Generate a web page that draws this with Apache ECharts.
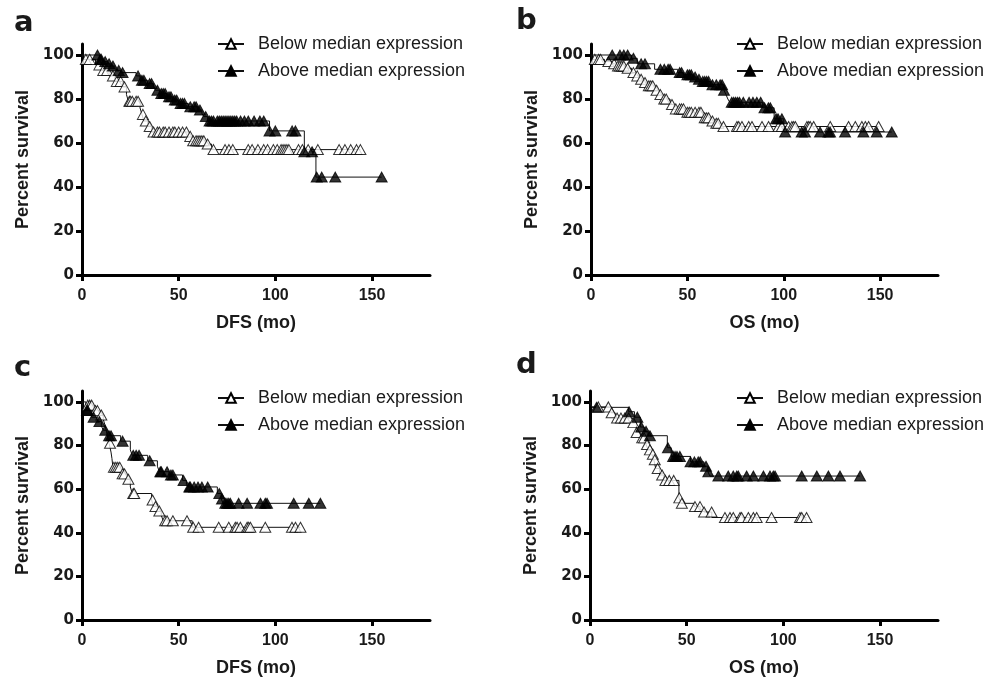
<!DOCTYPE html>
<html>
<head>
<meta charset="utf-8">
<script src="https://cdn.jsdelivr.net/npm/echarts@6/dist/echarts.min.js"></script>
<style>
html,body{margin:0;padding:0;background:#fff;}
#chart{width:1001px;height:678px;}
</style>
</head>
<body>
<div id="chart"></div>
<script>
// ---------- data ----------
var panelLetters = ['a', 'b', 'c', 'd'];
var xAxisTitles = ['DFS (mo)', 'OS (mo)', 'DFS (mo)', 'OS (mo)'];
var yAxisTitle = 'Percent survival';
var groupNames = ['Below median expression', 'Above median expression'];
var xTicks = [0, 50, 100, 150];
var yTicks = [0, 20, 40, 60, 80, 100];

// Kaplan-Meier step events: [time (mo), percent survival after the drop]
var aBelowEvents = [[1,98],[7,95.5],[10,93],[14,90.5],[17,88],[21,85.5],[23,82],[24,79],[30,76],[31,73],[32,70],[34,67.5],[36,65],[55,63],[57,61],[64,59.5],[67,57]];
var aBelowCensored = [2,4,9,11,13,16,18,20,22,24.5,25,26,28,29,31.5,33,35,37,39,40,42,43,45,47,48,50,52,54,56,57.5,59,60,61,62,63,65,68,74,76,78,86,88,91,94,96,99,101,103,104,105,106,107,112,114,117,122,133,136,139,142,144];
var aAboveEvents = [[9,98],[11,97],[13,96],[15,95],[17,94],[18,93],[20,92],[28,90.5],[30,88.5],[34,87],[37,85.5],[38,84],[40,82.5],[44,81],[47,79.5],[50,78],[55,76.5],[60,75],[62,73.5],[63,72],[65,70],[97,65.5],[115,56],[121,44.5]];
var aAboveCensored = [8,9.5,10,12,14,16,19,21,29,31,32,35,36,39,41,42,43,45,46,48,49,51,52,53,56,58,59,61,64,66,67,68,70,71,72,73,74,75,76,77,78,79,80,82,84,86,89,92,94,97,100,108.7,110.4,115,119,121.4,124,131,155];

var bBelowEvents = [[1,98],[7,97],[11,96],[13,95],[18,94],[21,92],[23,90.5],[25,89],[27,87.5],[29,86],[33,84],[35,82],[37,80],[41,77.5],[43,75.5],[49,74],[58,71.5],[62,70],[64,69],[67,67.5]];
var bBelowCensored = [2,4,5,9,12,14,15,16,17,19,22,24,26,28,30,31,32,34,36,38,39,42,44,46,47,48,50,51,52,54,56,57,59,60,61,63,65,66,68.7,75.7,76.6,78.3,81.8,83.5,88.7,92.1,97.3,99,102.5,104.2,105.1,106,112,112.9,113.7,115.5,124.1,133.6,137.1,140.5,142.3,144,149.2];
var bAboveEvents = [[21,98.5],[24,96],[33,93.5],[45,92],[48,91],[53,90],[55,89],[57,88],[62,86.5],[69,84],[70,82],[71,80],[72,78.5],[89,76],[95,71],[100,65]];
var bAboveCensored = [11,15,17,19,22,26,28,36,38,40,41,46,47,50,51,52,54,56,58,59,60,61,63,65,67,68,69,73,74,75,76,77,79,82,84,86,88,90,92,93,96,97,99,100.7,109.3,111,118.8,123.2,124,131.8,141.3,148.2,156];

var cBelowEvents = [[2,98.5],[6,96],[9,94],[11,92],[12,89],[13,85],[14,81],[15,77],[15.5,74],[16,70],[20,67],[23,64.5],[25,61],[26,58],[36,55],[37,52],[39,50],[41,48],[42,45.5],[57,42.5]];
var cBelowCensored = [3,4,5,7,8,10,14.5,16.5,17.5,18.5,19.5,21,22,24,26.5,27,36.5,38,40,43,44,47,54.3,57.5,60.3,70.7,75.9,79.3,80.2,81.9,85.4,86.2,87.1,94.8,108.6,110.4,113];
var cAboveEvents = [[1,96],[5,93],[8,91],[10,89],[11,87],[13,84.5],[20,82],[25,78],[26,75.5],[34,73],[39,70.5],[40,68],[45,66.5],[52,64],[54,62],[55,61],[70,58],[72,55.5],[73,53.5]];
var cAboveCensored = [2.6,3,6,9,12,14,15,21,26.5,28,29.5,35,40.5,41,44,46,47,52.5,55.5,56,58,60,62,65,71,72.4,74.1,75,75.9,76.7,81,85.4,92.3,94.8,95.7,109.5,117.3,123.3];

var dBelowEvents = [[1,97.7],[11,95],[13,92.6],[22,90.5],[24,86],[26,83.5],[29,80.5],[30,78],[32,76],[33,73.5],[34,69.5],[36,66.5],[38,64],[46,56],[47,53.5],[54,52],[57,50.5],[59,49.5],[63,47]];
var dBelowCensored = [4.3,9.5,11.2,14,16,18,20,22.4,24.1,27,28,29.5,31,32.5,33.5,35,37.3,39,41,43.3,46.2,47.5,54.3,56.9,59,62.9,69.8,72.4,74.1,77.6,78.4,81.9,84.5,86.2,93.9,108.6,109.5,112];
var dAboveEvents = [[1,97.5],[20,95.5],[23,93],[26,88.5],[28,86.5],[30,84.5],[40,79],[42,75],[52,72.5],[59,70.5],[61,68],[62,66]];
var dAboveCensored = [3.4,20.2,24.5,26.5,29,31,40.3,43,44,45,46.5,52,54,56,57,60,61.2,66.4,71.5,74.1,75.9,76.7,81,84.5,89.7,93.1,94.8,95.7,109.5,117.3,123.3,129.3,139.7];

var panelsData = [
  [[aBelowEvents, aBelowCensored], [aAboveEvents, aAboveCensored]],
  [[bBelowEvents, bBelowCensored], [bAboveEvents, bAboveCensored]],
  [[cBelowEvents, cBelowCensored], [cAboveEvents, cAboveCensored]],
  [[dBelowEvents, dBelowCensored], [dAboveEvents, dAboveCensored]]
];

// ---------- layout ----------
var grids = [
  {left: 82, top: 44, width: 348, height: 231},
  {left: 591, top: 44, width: 347, height: 231},
  {left: 82, top: 391, width: 348, height: 232},
  {left: 590, top: 391, width: 348, height: 232}
];
var legendPos = [
  {left: 217, top: 35},
  {left: 736, top: 35},
  {left: 217, top: 389},
  {left: 736, top: 389}
];
var letterPos = [
  {left: 14, top: 9},
  {left: 516, top: 7},
  {left: 14, top: 354},
  {left: 516, top: 351}
];

var TXT = '#1a1a1a';
var FONT = '"Liberation Sans", Arial, Helvetica, sans-serif';
var WIDE = '"DejaVu Sans", "Liberation Sans", Arial, sans-serif';

function survivalAt(events, t) {
  var s = 100;
  for (var i = 0; i < events.length; i++) {
    if (events[i][0] <= t) s = events[i][1];
  }
  return s;
}
function stepLine(events, censored) {
  var pts = [[0, 100]].concat(events);
  var lastT = Math.max(censored[censored.length - 1], events[events.length - 1][0]);
  pts.push([lastT, survivalAt(events, lastT)]);
  return pts;
}

var option = {
  animation: false,
  backgroundColor: '#fff',
  title: [], grid: [], xAxis: [], yAxis: [], legend: [], series: []
};

var groupStyle = [
  {color: '#fff', borderColor: '#000', borderWidth: 1},
  {color: '#000', borderColor: '#000', borderWidth: 1}
];

for (var p = 0; p < 4; p++) {
  option.title.push({
    text: panelLetters[p], left: letterPos[p].left, top: letterPos[p].top,
    padding: 0,
    textStyle: {fontFamily: WIDE, fontWeight: 'bold', fontSize: 29, color: TXT}
  });
  option.grid.push(grids[p]);
  option.xAxis.push({
    type: 'value', gridIndex: p, min: 0, max: 180,
    name: xAxisTitles[p], nameLocation: 'middle', nameGap: 39,
    nameTextStyle: {fontFamily: FONT, fontWeight: 'bold', fontSize: 18, color: TXT},
    axisLine: {show: true, lineStyle: {color: '#000', width: 3}},
    axisTick: {show: true, customValues: xTicks, length: 6, lineStyle: {color: '#000', width: 3}},
    axisLabel: {customValues: xTicks, margin: 13, fontFamily: FONT, fontWeight: 'bold', fontSize: 16, color: TXT},
    splitLine: {show: false}
  });
  option.yAxis.push({
    type: 'value', gridIndex: p, min: 0, max: 105,
    name: yAxisTitle, nameLocation: 'middle', nameGap: 50, nameRotate: 90,
    nameTextStyle: {fontFamily: FONT, fontWeight: 'bold', fontSize: 18, color: TXT},
    axisLine: {show: true, lineStyle: {color: '#000', width: 3}},
    axisTick: {show: true, customValues: yTicks, length: 6, lineStyle: {color: '#000', width: 3}},
    axisLabel: {customValues: yTicks, margin: 8, fontFamily: WIDE, fontWeight: 'bold', fontSize: 15, color: TXT},
    splitLine: {show: false}
  });
  option.legend.push({
    left: legendPos[p].left, top: legendPos[p].top,
    orient: 'vertical', selectedMode: false,
    itemWidth: 26, itemHeight: 12, itemGap: 9,
    padding: 0,
    data: groupNames,
    textStyle: {fontFamily: FONT, fontSize: 18, color: TXT, padding: [0, 0, 0, 9]}
  });
  for (var g = 0; g < 2; g++) {
    var ev = panelsData[p][g][0], cens = panelsData[p][g][1];
    option.series.push({
      type: 'line', name: groupNames[g], xAxisIndex: p, yAxisIndex: p,
      step: 'end', showSymbol: false, symbol: 'triangle', symbolSize: 10,
      itemStyle: groupStyle[g],
      lineStyle: {color: '#111', width: 1},
      data: stepLine(ev, cens), z: 2, silent: true
    });
    option.series.push({
      type: 'scatter', name: groupNames[g] + ' (censored ' + panelLetters[p] + ')',
      xAxisIndex: p, yAxisIndex: p,
      symbol: 'triangle', symbolSize: [11, 10],
      itemStyle: groupStyle[g],
      data: cens.map(function (t) { return [t, survivalAt(ev, t)]; }),
      z: 3 + g, silent: true
    });
  }
}

var chart = echarts.init(document.getElementById('chart'), null, {renderer: 'canvas'});
chart.setOption(option);
</script>
</body>
</html>
